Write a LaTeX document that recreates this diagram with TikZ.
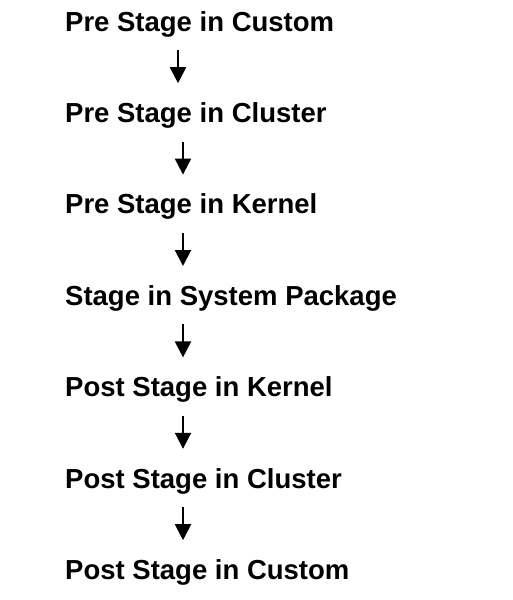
\documentclass[tikz,border=0pt]{standalone}
\usepackage{fontspec}
\setmainfont{Liberation Sans}
\usetikzlibrary{positioning,arrows.meta}
\tikzset{
  stage/.style={
    inner sep=0pt,
    text height=19pt,
    text depth=6pt,
    font=\fontsize{27.5pt}{27.5pt}\selectfont\bfseries},
  flow/.style={draw, line width=2pt, -{Triangle[length=16pt,width=16pt]}},
}
\begin{document}
\begin{tikzpicture}[x=1pt,y=1pt,node distance=66pt]
      \useasboundingbox (0,0) rectangle (512,-600);

      \node[stage, anchor=west] (PreCustom) at (65,-24.5) {Pre Stage in Custom};
      \node[stage, below=of PreCustom.south west, anchor=north west] (PreCluster) {Pre Stage in Cluster};
      \node[stage, below=of PreCluster.south west, anchor=north west] (PreKernel) {Pre Stage in Kernel};
      \node[stage, below=of PreKernel.south west, anchor=north west] (SysPackage) {Stage in System Package};
      \node[stage, below=of SysPackage.south west, anchor=north west] (PostKernel) {Post Stage in Kernel};
      \node[stage, below=of PostKernel.south west, anchor=north west] (PostCluster) {Post Stage in Cluster};
      \node[stage, below=of PostCluster.south west, anchor=north west] (PostCustom) {Post Stage in Custom};

      \path[flow] ([xshift=113pt,yshift=-13pt]PreCustom.south west) -- ([xshift=113pt,yshift=20pt]PreCluster.north west);
      \path[flow] ([xshift=118pt,yshift=-13pt]PreCluster.south west) -- ([xshift=118pt,yshift=20pt]PreKernel.north west);
      \path[flow] ([xshift=118pt,yshift=-13pt]PreKernel.south west) -- ([xshift=118pt,yshift=20pt]SysPackage.north west);
      \path[flow] ([xshift=118pt,yshift=-13pt]SysPackage.south west) -- ([xshift=118pt,yshift=20pt]PostKernel.north west);
      \path[flow] ([xshift=118pt,yshift=-13pt]PostKernel.south west) -- ([xshift=118pt,yshift=20pt]PostCluster.north west);
      \path[flow] ([xshift=118pt,yshift=-13pt]PostCluster.south west) -- ([xshift=118pt,yshift=20pt]PostCustom.north west);

\end{tikzpicture}
\end{document}
